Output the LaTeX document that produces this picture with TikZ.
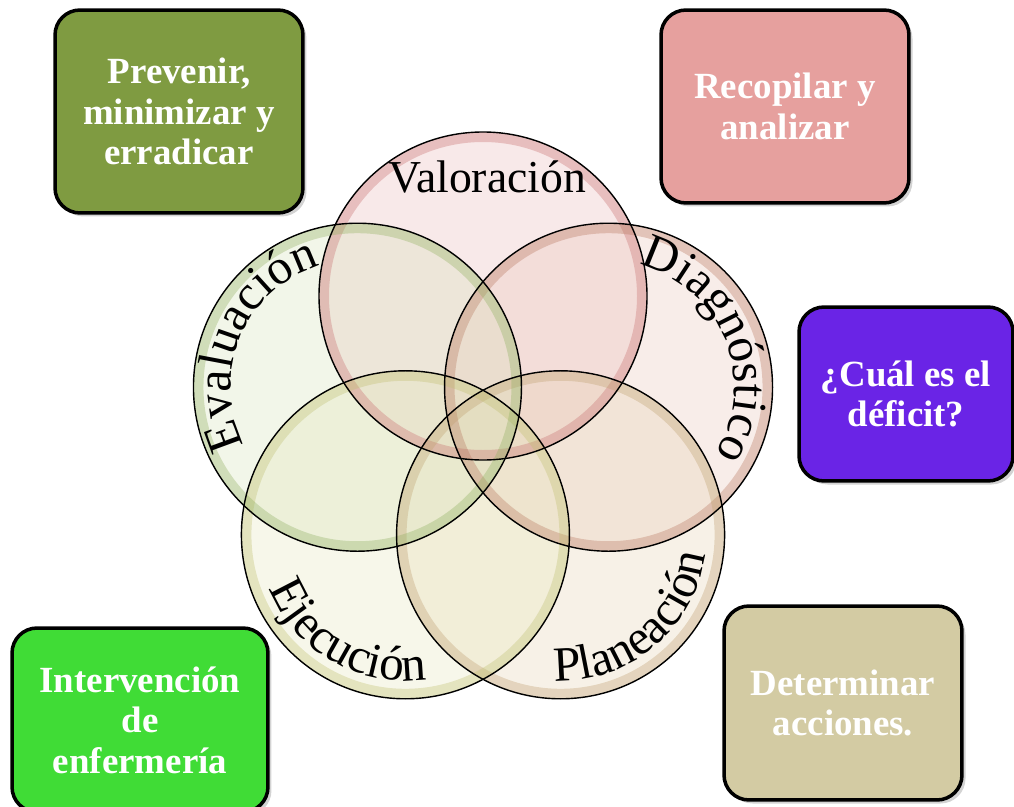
\documentclass[tikz,border=0pt]{standalone}
\usepackage{fontspec}
\setmainfont{Liberation Serif}
\usepackage{tikz}
\usetikzlibrary{decorations.text,shadows}
\definecolor{valfill}{HTML}{E8B5B5}
\definecolor{valrim}{HTML}{C87070}
\definecolor{diafill}{HTML}{E8C2B5}
\definecolor{diarim}{HTML}{B87860}
\definecolor{plafill}{HTML}{E5D2B0}
\definecolor{plarim}{HTML}{C0A070}
\definecolor{ejefill}{HTML}{E5E5B8}
\definecolor{ejerim}{HTML}{C0C070}
\definecolor{evafill}{HTML}{D5E0B5}
\definecolor{evarim}{HTML}{90B060}
\definecolor{prevcol}{HTML}{7F9B41}
\definecolor{recocol}{HTML}{E6A09E}
\definecolor{cualcol}{HTML}{6A24E6}
\definecolor{detecol}{HTML}{D3CBA3}
\definecolor{intecol}{HTML}{40DC36}
\newcommand\stagefont{\fontsize{26}{28}\selectfont}
\newcommand\arcfont{\fontsize{28}{30}\selectfont}
\newcommand\goalfont{\fontsize{21}{23}\selectfont\bfseries}
\tikzset{
  stagelabel/.style={decorate, decoration={text along path, text align=center, text={|\arcfont|#1}}},
  goalbox/.style={draw=black, line width=2pt, rounded corners=0.5cm, text=white, align=center,
    font=\goalfont, drop shadow={opacity=0.35, shadow xshift=2pt, shadow yshift=-2pt}},
}
\begin{document}
\begin{tikzpicture}[x=0.02cm, y=0.02cm]
\useasboundingbox (0,0) rectangle (1014,806);
\coordinate (c) at (483,378);
\foreach \nm/\ang in {val/90, dia/18, pla/-54, eje/-126, eva/162}
  \path (c) ++(\ang:132) coordinate (\nm);
% circles
\foreach \nm in {val, dia, pla, eje, eva}
  \fill[\nm fill, fill opacity=0.3] (\nm) circle[radius=164];
\foreach \nm in {val, dia, pla, eje, eva}
  \draw[\nm rim, line width=0.2cm, draw opacity=0.35] (\nm) circle[radius=159];
\foreach \nm in {val, dia, pla, eje, eva}
  \draw[line width=0.8pt] (\nm) circle[radius=164];
% labels
\node[font=\stagefont, anchor=base] (valtxt) at (487,614) {Valoración};
\path[stagelabel=Diagnóstico] (dia) ++(82:126) arc[start angle=82, end angle=-38, radius=126];
\path[stagelabel=Evaluación] (eva) ++(217:127) arc[start angle=217, end angle=97, radius=127];
\path[stagelabel=Ejecución] (eje) ++(175:146) arc[start angle=175, end angle=305, radius=146];
\path[stagelabel=Planeación] (pla) ++(245:146) arc[start angle=245, end angle=375, radius=146];
% boxes
\node[goalbox, fill=prevcol, minimum width=4.96cm, minimum height=4.06cm] (prevenir) at (179,694.5) {Prevenir,\\minimizar y\\erradicar};
\node[goalbox, fill=recocol, minimum width=4.96cm, minimum height=3.86cm] (recopilar) at (785,699.5) {Recopilar y\\analizar};
\node[goalbox, fill=cualcol, minimum width=4.28cm, minimum height=3.48cm] (deficit) at (906,412) {¿Cuál es el\\déficit?};
\node[goalbox, fill=detecol, minimum width=4.76cm, minimum height=3.88cm] (acciones) at (843,103) {Determinar\\acciones.};
\node[goalbox, fill=intecol, minimum width=5.12cm, minimum height=3.68cm] (intervencion) at (140,86) {Intervención\\de\\enfermería};
\end{tikzpicture}
\end{document}
